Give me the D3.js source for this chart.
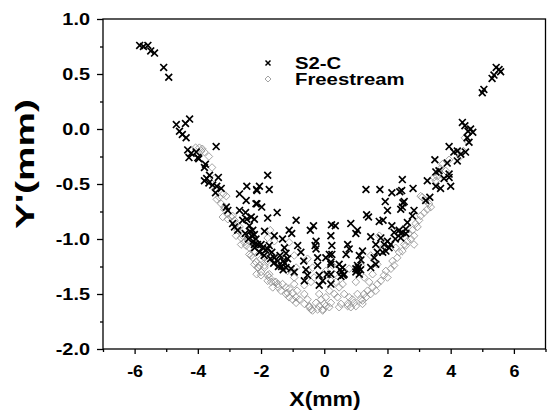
<!DOCTYPE html>
<html>
<head>
<meta charset="utf-8">
<script src="https://cdn.jsdelivr.net/npm/d3@7"></script>
<style>
  body { margin: 0; background: #fff; }
  text { font-family: "Liberation Sans", Arial, sans-serif; font-weight: bold; fill: #000; }
</style>
</head>
<body>
<svg id="chart" width="547" height="414"></svg>
<script>
// Series values: [X (mm), Y' (mm)]
var s2c = [
  [-5.84, 0.76], [-5.72, 0.75], [-5.58, 0.76], [-5.49, 0.71], [-5.37, 0.69], [-5.08, 0.56], [-4.92, 0.47],
  [5.44, 0.56], [5.53, 0.54], [5.58, 0.52], [5.37, 0.49], [5.31, 0.46], [5.05, 0.36], [5.0, 0.33],
  [-4.68, 0.04], [-4.39, 0.05], [-4.26, 0.09], [-4.58, -0.02], [-4.49, -0.05], [-4.37, -0.08], [-3.42, -0.16],
  [-4.32, -0.19], [-4.21, -0.22], [-4.05, -0.21], [-4.28, -0.26], [-4.0, -0.26], [-3.97, -0.27], [-3.79, -0.35],
  [-3.76, -0.32], [-3.63, -0.42], [-3.35, -0.44], [-3.72, -0.45], [-3.79, -0.47], [-3.65, -0.49], [-3.53, -0.51],
  [-3.4, -0.52], [-3.26, -0.54], [-3.44, -0.58], [-3.1, -0.71], [-3.05, -0.74], [-2.68, -0.59], [-2.45, -0.52],
  [-2.47, -0.65], [-2.14, -0.55], [-2.16, -0.68], [-2.68, -0.74], [-2.49, -0.76], [-2.58, -0.83], [-2.45, -0.82],
  [-2.31, -0.8], [-2.21, -0.82], [-2.37, -0.88], [-2.26, -0.92], [-2.21, -0.96], [-2.16, -1.0], [-2.11, -1.05],
  [-2.84, -0.89], [-2.74, -0.92], [-2.9, -0.86],
  [-1.79, -0.42], [-2.05, -0.52], [-2.13, -0.56], [-1.74, -0.55], [-2.13, -0.68], [-1.98, -0.71], [-1.79, -0.81],
  [-1.49, -0.76], [-0.89, -0.83], [-1.89, -0.93], [-1.58, -0.97], [-1.11, -0.92], [-1.03, -0.95], [-1.32, -1.0],
  [-0.44, -0.92], [-0.34, -0.88], [0.23, -0.87], [-2.21, -1.05], [-1.74, -1.06], [-1.79, -1.09], [-1.66, -1.12],
  [-1.26, -1.08], [-1.21, -1.13], [-0.84, -1.06], [-0.74, -1.12], [-0.26, -1.02], [-0.29, -1.06], [-0.26, -1.09],
  [-1.58, -1.17], [-1.47, -1.2], [-1.16, -1.18], [-0.65, -1.2], [-0.21, -1.17], [0.05, -1.17], [0.16, -1.14],
  [-1.21, -1.26], [-1.05, -1.27], [-0.95, -1.3], [-0.58, -1.28], [-0.53, -1.33], [-0.63, -1.38], [-0.21, -1.24],
  [-0.16, -1.33], [-0.16, -1.42], [0.09, -1.32], [-0.05, -1.38], [0.21, -1.23], [-1.4, -1.15], [-1.3, -1.2],
  [-1.35, -1.25], [-1.25, -1.22], [-2.3, -0.97], [-2.25, -1.02], [-2.35, -0.93], [-2.0, -1.05], [-1.95, -1.08],
  [-1.85, -1.1], [-2.4, -1.0], [-2.2, -1.08], [-2.05, -1.12], [-1.9, -1.15], [-1.7, -1.18], [-1.6, -1.22],
  [-1.45, -1.25], [-1.3, -1.28], [-2.5, -0.95],
  [1.32, -0.55], [1.76, -0.55], [2.14, -0.58], [2.39, -0.57], [2.47, -0.46], [1.93, -0.66], [2.49, -0.67],
  [2.0, -0.74], [2.42, -0.73], [1.34, -0.78], [1.4, -0.8], [1.74, -0.84], [1.86, -0.83], [2.14, -0.88],
  [2.63, -0.85], [0.35, -0.88], [0.84, -0.86], [1.05, -0.92], [1.0, -0.95], [1.47, -0.98], [1.79, -0.99],
  [2.21, -0.94], [2.37, -0.92], [2.42, -0.95], [0.21, -0.97], [0.24, -1.06], [0.74, -1.05], [0.79, -1.09],
  [1.21, -1.11], [1.63, -1.05], [2.0, -1.02], [2.05, -1.08], [0.24, -1.14], [0.69, -1.14], [1.11, -1.15],
  [1.16, -1.19], [1.68, -1.12], [1.95, -1.11], [0.47, -1.23], [0.58, -1.26], [1.58, -1.17], [1.63, -1.23],
  [1.05, -1.24], [0.21, -1.21], [0.63, -1.32], [0.53, -1.34], [1.0, -1.3], [1.11, -1.32], [0.21, -1.32],
  [0.21, -1.41], [1.47, -1.26], [2.58, -0.95], [0.55, -1.3], [1.05, -1.28], [1.08, -1.26],
  [2.1, -1.05], [2.25, -1.0], [1.85, -1.12], [1.9, -1.05], [1.0, -1.27], [1.15, -1.28], [0.5, -1.28], [0.6, -1.33],
  [4.37, 0.06], [4.63, 0.0], [4.7, -0.03], [4.52, -0.08], [4.58, -0.12], [3.95, -0.16], [4.21, -0.2],
  [4.1, -0.21], [4.32, -0.23], [4.47, -0.21], [4.21, -0.29], [3.5, -0.28], [3.89, -0.31], [3.53, -0.39],
  [3.63, -0.38], [3.95, -0.41], [3.79, -0.45], [3.26, -0.47], [3.95, -0.44], [3.53, -0.52], [3.68, -0.54],
  [4.0, -0.52], [2.45, -0.56], [2.81, -0.54], [2.53, -0.66], [2.47, -0.71], [3.34, -0.62], [3.21, -0.65],
  [2.84, -0.74], [2.79, -0.79], [2.58, -0.91], [2.47, -0.94], [2.42, -0.99], [4.45, 0.03], [4.55, -0.02]
]

var freestream = [
  [-4.07, -0.17], [-3.95, -0.17], [-3.86, -0.18], [-3.79, -0.21], [-3.65, -0.25], [-3.55, -0.35], [-4.2, -0.19],
  [-3.89, -0.2], [-3.4, -0.64], [-3.32, -0.62], [-3.19, -0.59], [-3.1, -0.61], [-3.26, -0.68], [-3.16, -0.71],
  [-3.21, -0.8], [-3.05, -0.82], [-2.95, -0.8], [-2.84, -0.83], [-2.68, -0.89], [-2.74, -0.92], [-2.79, -0.97],
  [-2.63, -0.99], [-2.53, -1.03], [-2.63, -1.05], [-2.47, -1.06], [-2.37, -1.14], [-2.26, -1.17], [-2.16, -1.21],
  [-2.11, -1.26], [-2.14, -1.32], [-3.16, -0.73], [-3.05, -0.77], [-2.9, -0.79], [-2.79, -0.86], [-2.58, -0.97],
  [-2.42, -1.01], [-2.37, -1.08], [-2.21, -1.11], [-2.31, -1.15], [-2.05, -1.24], [-2.0, -1.33], [-1.89, -1.26],
  [-1.79, -1.38], [-1.63, -1.44], [-1.74, -1.32], [-1.53, -1.39], [-1.37, -1.47], [-3.45, -0.55], [-3.48, -0.45],
  [-2.21, -1.23], [-2.08, -1.26], [-2.0, -1.3], [-1.89, -1.24], [-1.79, -0.99], [-1.71, -0.92], [-1.58, -1.02],
  [-1.79, -1.33], [-1.68, -1.39], [-1.74, -1.35], [-1.58, -1.39], [-1.47, -1.41], [-1.45, -1.44], [-1.32, -1.41],
  [-1.21, -1.44], [-1.11, -1.45], [-1.16, -1.49], [-1.0, -1.49], [-0.95, -1.41], [-0.86, -1.47], [-0.89, -1.53],
  [-0.79, -1.55], [-0.63, -1.5], [-0.53, -1.55], [-0.47, -1.61], [-0.42, -1.64], [-0.26, -1.58], [-0.16, -1.61],
  [-0.05, -1.64], [0.0, -1.59], [-0.1, -1.55], [0.05, -1.53], [0.21, -1.58], [0.16, -1.62], [-0.16, -1.5],
  [-0.63, -1.42], [-0.95, -1.35], [-1.89, -1.17], [-2.0, -1.18], [-1.79, -1.2], [-1.26, -1.26], [-1.16, -1.29],
  [-0.89, -1.26], [-1.47, -1.23], [-1.11, -1.03], [-0.95, -1.15], [-0.53, -1.18], [-0.37, -1.26], [-0.32, -1.35],
  [-0.42, -1.39], [0.16, -1.47], [0.21, -1.38], [0.05, -1.29], [-1.21, -1.5], [-1.11, -1.53], [-1.0, -1.55],
  [-0.89, -1.58], [-0.63, -1.59], [-0.47, -1.62], [-0.37, -1.65], [-0.21, -1.64], [-0.05, -1.65], [0.05, -1.61],
  [0.47, -1.62], [0.74, -1.59], [0.89, -1.55], [1.0, -1.61], [1.21, -1.56], [1.32, -1.53],
  [0.26, -1.24], [0.37, -1.39], [0.47, -1.44], [0.32, -1.5], [0.42, -1.53], [0.53, -1.59], [0.63, -1.5],
  [0.79, -1.53], [0.74, -1.61], [0.84, -1.62], [0.95, -1.58], [1.05, -1.5], [1.16, -1.55], [1.21, -1.59],
  [1.26, -1.5], [1.37, -1.47], [1.47, -1.5], [1.53, -1.44], [1.68, -1.41], [1.63, -1.47], [1.79, -1.38],
  [1.89, -1.33], [2.0, -1.35], [1.95, -1.29], [2.11, -1.27], [2.21, -1.24], [2.16, -1.2], [2.31, -1.17],
  [2.37, -1.12], [2.47, -1.11], [2.58, -1.06], [2.26, -1.08], [1.74, -0.97], [1.84, -1.08], [1.47, -1.15],
  [1.16, -1.24], [0.79, -1.27], [0.58, -1.41], [1.0, -1.39], [1.26, -1.35], [1.53, -1.32], [1.68, -1.23],
  [1.42, -1.39], [0.32, -1.32],
  [3.1, -0.62], [3.21, -0.65], [3.32, -0.68], [3.37, -0.71], [3.26, -0.73], [3.16, -0.76], [3.05, -0.79],
  [3.0, -0.83], [2.89, -0.86], [2.95, -0.89], [2.79, -0.92], [2.84, -0.97], [2.68, -0.95], [2.74, -1.0],
  [2.63, -1.02], [2.84, -1.05], [2.53, -1.05], [3.47, -0.44], [3.63, -0.39], [3.74, -0.42], [3.84, -0.38],
  [4.53, -0.11], [4.45, -0.08], [3.74, -0.32], [3.68, -0.36], [3.58, -0.43], [3.53, -0.47], [3.05, -0.61],
  [4.4, -0.2], [4.3, -0.25], [3.95, -0.28]
]

var xTicks = [-6, -4, -2, 0, 2, 4, 6]
var yTicks = [-2.0, -1.5, -1.0, -0.5, 0.0, 0.5, 1.0]
var seriesNames = ['S2-C', 'Freestream']

// Layout (pixels)
var plotLeft = 103
var plotRight = 545.5
var plotTop = 19
var plotBottom = 349

var svg = d3.select('#chart')
var x = d3.scaleLinear().domain([-7, 7]).range([plotLeft, plotRight])
var y = d3.scaleLinear().domain([-2, 1]).range([plotBottom, plotTop])

var crossPath = 'M-3.4,-3.4L3.4,3.4M-3.4,3.4L3.4,-3.4'
var diamondPath = 'M0,-3.8L3.8,0L0,3.8L-3.8,0Z'

// plain hyphen for negatives, like the original
function hyphen (fmt) {
  return function (d) { return fmt(d).replace('\u2212', '-') }
}

// The original lettering is a little wider than Liberation Sans Bold.
function widen (sel, factor) {
  sel.each(function () {
    var w = this.getComputedTextLength()
    d3.select(this).attr('textLength', w * factor).attr('lengthAdjust', 'spacingAndGlyphs')
  })
}

// Frame
svg.append('rect')
  .attr('x', plotLeft).attr('y', plotTop)
  .attr('width', plotRight - plotLeft).attr('height', plotBottom - plotTop)
  .attr('fill', 'none').attr('stroke', '#000').attr('stroke-width', 1.3)

// X axis: major every 2, minor every 1
var xAxis = d3.axisBottom(x).tickValues(xTicks).tickSize(5).tickPadding(9.5)
  .tickFormat(hyphen(d3.format('d')))
var gx = svg.append('g').attr('transform', 'translate(0,' + plotBottom + ')').call(xAxis)
gx.select('.domain').remove()
gx.selectAll('.tick line').attr('stroke-width', 1.3)
gx.selectAll('text').attr('font-size', 16).attr('dy', '0.85em').call(widen, 1.12)
svg.append('g').attr('transform', 'translate(0,' + plotBottom + ')')
  .call(d3.axisBottom(x).tickValues(d3.range(-7, 8, 2)).tickSize(3).tickFormat(''))
  .call(function (g) { g.select('.domain').remove() })
  .selectAll('.tick line').attr('stroke-width', 1.3)

// Y axis: major every 0.5, minor every 0.25
var yAxis = d3.axisLeft(y).tickValues(yTicks).tickSize(6).tickPadding(7)
  .tickFormat(hyphen(d3.format('.1f')))
var gy = svg.append('g').attr('transform', 'translate(' + plotLeft + ',0)').call(yAxis)
gy.select('.domain').remove()
gy.selectAll('.tick line').attr('stroke-width', 1.3)
gy.selectAll('text').attr('font-size', 17).call(widen, 1.17)
svg.append('g').attr('transform', 'translate(' + plotLeft + ',0)')
  .call(d3.axisLeft(y).tickValues([-1.75, -1.25, -0.75, -0.25, 0.25, 0.75]).tickSize(3).tickFormat(''))
  .call(function (g) { g.select('.domain').remove() })
  .selectAll('.tick line').attr('stroke-width', 1.3)

// Axis titles
svg.append('text')
  .attr('x', 325).attr('y', 406)
  .attr('text-anchor', 'middle').attr('font-size', 21)
  .text('X(mm)')
  .call(widen, 1.09)
svg.append('text')
  .attr('transform', 'translate(34,164) rotate(-90)')
  .attr('text-anchor', 'middle').attr('font-size', 25)
  .text("Y'(mm)")
  .attr('textLength', 130).attr('lengthAdjust', 'spacingAndGlyphs')

// Data
svg.append('g').selectAll('path')
  .data(freestream)
  .enter().append('path')
  .attr('d', diamondPath)
  .attr('transform', function (d) { return 'translate(' + x(d[0]) + ',' + y(d[1]) + ')' })
  .attr('fill', 'none').attr('stroke', '#8c8c8c').attr('stroke-width', 0.8)

svg.append('g').selectAll('path')
  .data(s2c)
  .enter().append('path')
  .attr('d', crossPath)
  .attr('transform', function (d) { return 'translate(' + x(d[0]) + ',' + y(d[1]) + ')' })
  .attr('stroke', '#000').attr('stroke-width', 1.7)

// Legend
var legend = svg.append('g').attr('transform', 'translate(268,63)')
legend.append('path').attr('d', 'M-2.5,-2.5L2.5,2.5M-2.5,2.5L2.5,-2.5').attr('stroke', '#000').attr('stroke-width', 1.5)
legend.append('path').attr('d', 'M0,-3L3,0L0,3L-3,0Z').attr('transform', 'translate(0,16)')
  .attr('fill', 'none').attr('stroke', '#8c8c8c').attr('stroke-width', 0.8)
legend.selectAll('text.lbl')
  .data(seriesNames)
  .enter().append('text')
  .attr('class', 'lbl')
  .attr('x', 27)
  .attr('y', function (d, i) { return i * 16 + 5.5 })
  .attr('font-size', 16)
  .text(function (d) { return d })
  .call(widen, 1.27)
</script>
</body>
</html>
